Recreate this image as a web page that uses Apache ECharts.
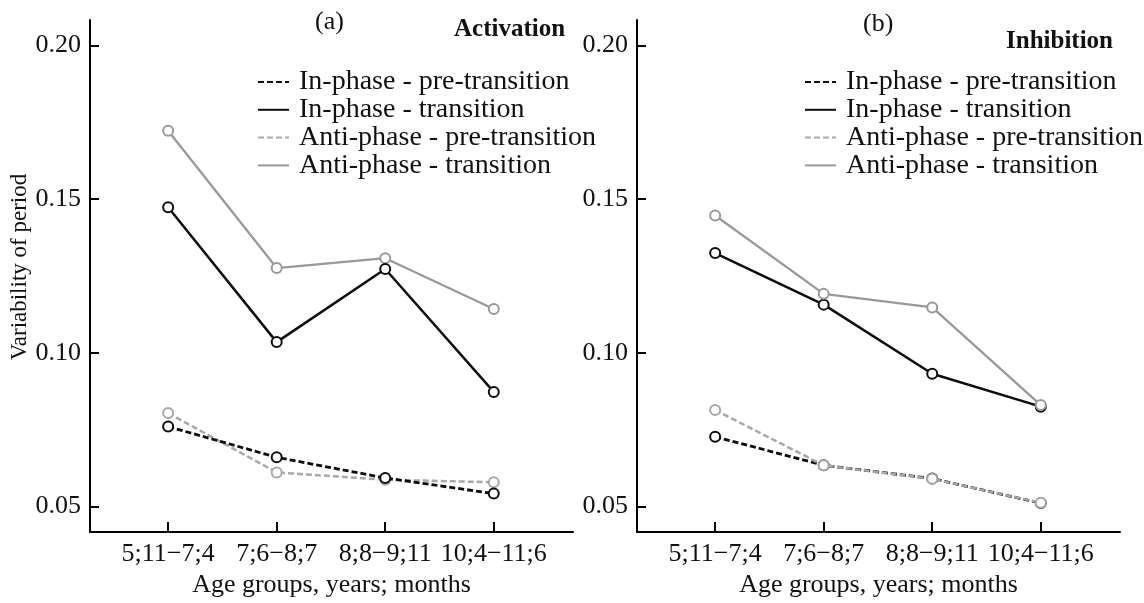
<!DOCTYPE html>
<html>
<head>
<meta charset="utf-8">
<script src="https://cdn.jsdelivr.net/npm/echarts@6/dist/echarts.min.js"></script>
<style>
  html, body { margin: 0; padding: 0; background: #fff; }
  #main { width: 1144px; height: 603px; }
</style>
</head>
<body>
<div id="main"></div>
<script>
// age groups on the x axis
const ageGroups = ["5;11\u22127;4", "7;6\u22128;7", "8;8\u22129;11", "10;4\u221211;6"];
const yTicks = [0.05, 0.10, 0.15, 0.20];
const seriesNames = ["In-phase - pre-transition", "In-phase - transition", "Anti-phase - pre-transition", "Anti-phase - transition"];

// (a) Activation
const actInPre = [0.0760, 0.0660, 0.0593, 0.0542];
const actInTr = [0.1474, 0.1035, 0.1273, 0.0873];
const actAntiPre = [0.0804, 0.0611, 0.0587, 0.0579];
const actAntiTr = [0.1723, 0.1276, 0.1308, 0.1143];

// (b) Inhibition
const inhInPre = [0.0727, 0.0634, 0.0591, 0.0511];
const inhInTr = [0.1325, 0.1157, 0.0932, 0.0825];
const inhAntiPre = [0.0814, 0.0634, 0.0590, 0.0512];
const inhAntiTr = [0.1447, 0.1192, 0.1148, 0.0830];

const FONT = "Liberation Serif";
const BLACK = "#0d0d0d";
const GREY = "#999";

const chart = echarts.init(document.getElementById("main"));

function toPoints(vals) {
  return vals.map((v, i) => [i + 1, v]);
}

// style for each of the 4 curves
const styles = [
  { color: BLACK, type: [6, 3], width: 2.8, border: 3 },
  { color: BLACK, type: "solid", width: 2.5, border: 3 },
  { color: "#a8a8a8", type: [6, 3], width: 2.5, border: 2.8 },
  { color: GREY, type: "solid", width: 2.3, border: 2.8 }
];

function makeSeries(idx, vals, k, z) {
  const st = styles[k];
  return {
    name: seriesNames[k],
    type: "line",
    xAxisIndex: idx,
    yAxisIndex: idx,
    data: toPoints(vals),
    symbol: "emptyCircle",
    symbolSize: 10,
    z: z,
    lineStyle: { color: st.color, type: st.type, width: st.width },
    itemStyle: { color: st.color, borderColor: st.color, borderWidth: st.border },
    emphasis: { disabled: true }
  };
}

function xAxis(idx) {
  return {
    type: "value",
    gridIndex: idx,
    min: 0.28,
    max: 4.73,
    name: "Age groups, years; months",
    nameLocation: "middle",
    nameGap: 36,
    nameTextStyle: { fontFamily: FONT, fontSize: 26, color: "#111" },
    axisLine: { show: true, lineStyle: { color: "#000", width: 2 } },
    axisTick: { show: true, inside: true, length: 10, lineStyle: { color: "#000", width: 2 }, customValues: [1, 2, 3, 4] },
    axisLabel: {
      customValues: [1, 2, 3, 4],
      margin: 9,
      fontFamily: FONT,
      fontSize: 26,
      color: "#111",
      formatter: v => ageGroups[Math.round(v) - 1] || ""
    },
    splitLine: { show: false }
  };
}

function yAxis(idx, showName) {
  return {
    type: "value",
    gridIndex: idx,
    min: 0.04167,
    max: 0.20833,
    name: showName ? "Variability of period" : "",
    nameLocation: "middle",
    nameGap: 56,
    nameTextStyle: { fontFamily: FONT, fontSize: 23, color: "#111", padding: [0, 0, 0, 18] },
    axisLine: { show: true, lineStyle: { color: "#000", width: 2 } },
    axisTick: { show: true, inside: true, length: 9, lineStyle: { color: "#000", width: 2 }, customValues: yTicks },
    axisLabel: {
      customValues: yTicks,
      margin: 9,
      fontFamily: FONT,
      fontSize: 26,
      color: "#111",
      formatter: v => v.toFixed(2)
    },
    splitLine: { show: false }
  };
}

function legend(left) {
  return {
    orient: "vertical",
    left: left,
    top: 68,
    itemWidth: 31,
    itemHeight: 14,
    itemGap: -0.2,
    padding: 0,
    selectedMode: false,
    data: seriesNames,
    itemStyle: { opacity: 0 },
    textStyle: { fontFamily: FONT, fontSize: 28, color: "#111", lineHeight: 25, padding: [0, 0, 0, 5] }
  };
}

const option = {
  animation: false,
  backgroundColor: "#fff",
  title: [
    { text: "(a)", left: 315, top: 9, padding: 0, textStyle: { fontFamily: FONT, fontSize: 26, fontWeight: "normal", color: "#111" } },
    { text: "Activation", left: 454, top: 17, padding: 0, textStyle: { fontFamily: FONT, fontSize: 25, fontWeight: "bold", color: "#111" } },
    { text: "(b)", left: 863, top: 11, padding: 0, textStyle: { fontFamily: FONT, fontSize: 26, fontWeight: "normal", color: "#111" } },
    { text: "Inhibition", left: 1006, top: 29, padding: 0, textStyle: { fontFamily: FONT, fontSize: 25, fontWeight: "bold", color: "#111" } }
  ],
  legend: [legend(257), legend(804)],
  grid: [
    { left: 90, right: 571, top: 20, bottom: 63 },
    { left: 637, right: 24, top: 20, bottom: 63 }
  ],
  xAxis: [xAxis(0), xAxis(1)],
  yAxis: [yAxis(0, true), yAxis(1, false)],
  series: [
    // panel (a): in-phase drawn above anti-phase
    makeSeries(0, actAntiPre, 2, 2),
    makeSeries(0, actAntiTr, 3, 2),
    makeSeries(0, actInPre, 0, 3),
    makeSeries(0, actInTr, 1, 3),
    // panel (b): anti-phase drawn above in-phase
    makeSeries(1, inhInPre, 0, 2),
    makeSeries(1, inhInTr, 1, 2),
    makeSeries(1, inhAntiPre, 2, 3),
    makeSeries(1, inhAntiTr, 3, 3)
  ]
};

chart.setOption(option);
window.addEventListener("resize", () => chart.resize());
</script>
</body>
</html>
